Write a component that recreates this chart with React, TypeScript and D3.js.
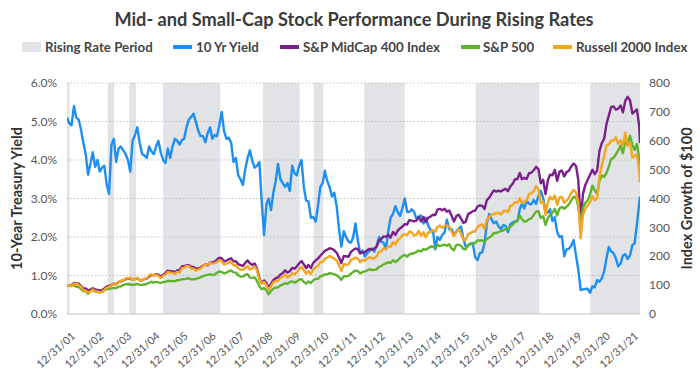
import React from 'react';
import * as d3 from 'd3';

// ---------- DATA ----------
const xTickLabels = ['12/31/01','12/31/02','12/31/03','12/31/04','12/31/05','12/31/06','12/31/07','12/31/08','12/31/09','12/31/10','12/31/11','12/31/12','12/31/13','12/31/14','12/31/15','12/31/16','12/31/17','12/31/18','12/31/19','12/31/20','12/31/21'];
const leftTicks = [0, 1, 2, 3, 4, 5, 6];
const rightTicks = [0, 100, 200, 300, 400, 500, 600, 700, 800];

const risingStarts = ['2001-12-31','2003-06-13','2004-03-17','2005-06-01','2008-12-18','2010-10-06','2012-07-24','2016-07-08','2020-08-04'];
const risingEnds   = ['2002-02-04','2003-09-02','2004-06-14','2007-06-12','2010-04-05','2011-02-08','2013-12-31','2018-10-12','2022-05-10'];

const firstDate = '2001-12-31';
const lastDate = '2022-05-10';

// monthly (month-end) observations, Dec 2001 .. May 2022
const yield10 = [
  5.10,
  4.95, 4.90, 5.40, 5.10, 5.05, 4.80, 4.45, 4.15, 3.62, 3.90, 4.20, 3.82,
  4.00, 3.70, 3.80, 3.85, 3.35, 3.12, 4.40, 4.55, 3.95, 4.30, 4.35, 4.25,
  4.15, 4.00, 3.70, 4.50, 4.65, 4.85, 4.45, 4.15, 4.12, 4.05, 4.35, 4.22,
  4.15, 4.35, 4.50, 4.20, 4.00, 3.92, 4.30, 4.05, 4.35, 4.55, 4.50, 4.40,
  4.52, 4.55, 4.85, 5.05, 5.12, 5.20, 4.98, 4.75, 4.62, 4.62, 4.46, 4.70,
  4.85, 4.55, 4.65, 4.62, 4.90, 5.25, 4.75, 4.55, 4.58, 4.45, 3.95, 4.05,
  3.60, 3.50, 3.35, 3.75, 4.05, 4.25, 3.98, 3.80, 3.85, 3.95, 2.95, 2.05,
  2.85, 3.00, 2.70, 3.15, 3.45, 3.90, 3.50, 3.40, 3.30, 3.40, 3.20, 3.85,
  3.65, 3.60, 3.85, 4.00, 3.30, 2.95, 2.92, 2.50, 2.52, 2.40, 2.80, 3.30,
  3.40, 3.72, 3.45, 3.30, 3.05, 3.15, 2.80, 2.20, 1.75, 2.15, 2.00, 1.88,
  1.85, 1.98, 2.35, 1.92, 1.58, 1.65, 1.49, 1.58, 1.65, 1.70, 1.62, 1.78,
  2.00, 1.88, 1.85, 1.68, 2.15, 2.50, 2.60, 2.80, 2.65, 2.55, 2.75, 3.00,
  2.65, 2.65, 2.72, 2.65, 2.48, 2.53, 2.56, 2.35, 2.50, 2.30, 2.18, 2.17,
  1.68, 2.00, 1.92, 2.05, 2.12, 2.45, 2.20, 2.20, 2.05, 2.15, 2.22, 2.27,
  1.95, 1.75, 1.78, 1.83, 1.85, 1.48, 1.40, 1.58, 1.60, 1.84, 2.37, 2.60,
  2.45, 2.36, 2.40, 2.28, 2.20, 2.31, 2.29, 2.12, 2.33, 2.38, 2.41, 2.41,
  2.72, 2.87, 2.74, 2.95, 2.86, 2.85, 2.96, 2.86, 3.06, 3.20, 3.01, 2.69,
  2.63, 2.72, 2.41, 2.51, 2.13, 2.00, 2.02, 1.50, 1.68, 1.69, 1.78, 1.92,
  1.51, 1.15, 0.62, 0.64, 0.65, 0.66, 0.55, 0.72, 0.69, 0.88, 0.84, 0.93,
  1.11, 1.44, 1.74, 1.63, 1.58, 1.45, 1.24, 1.31, 1.52, 1.55, 1.43, 1.52,
  1.79, 1.83, 2.32, 2.89, 3.05,
];

const midcap400 = [
  100,
  100.0, 100.2, 107.2, 106.8, 105.0, 97.3, 87.8, 88.4, 81.2, 84.6, 88.9, 85.0,
  83.7, 81.2, 82.5, 88.5, 95.9, 97.3, 100.8, 104.6, 103.0, 110.2, 113.4, 116.0,
  120.4, 123.0, 123.2, 118.9, 120.8, 124.2, 117.5, 116.5, 120.6, 122.8, 129.9, 135.3,
  133.5, 138.1, 136.0, 130.0, 136.0, 141.4, 150.1, 147.6, 148.6, 143.7, 150.9, 152.8,
  165.2, 165.6, 168.6, 168.6, 163.3, 162.9, 156.4, 158.7, 160.8, 167.1, 171.5, 168.8,
  177.7, 178.6, 180.9, 188.0, 195.2, 193.1, 182.6, 185.2, 189.2, 193.1, 182.2, 182.8,
  172.8, 169.1, 166.3, 176.9, 185.5, 175.8, 170.0, 175.2, 157.0, 124.2, 106.5, 116.2,
  107.4, 90.0, 103.2, 117.3, 123.8, 126.5, 137.0, 142.0, 151.2, 143.6, 148.0, 159.4,
  156.9, 164.3, 174.9, 183.4, 171.8, 158.5, 169.8, 158.9, 177.2, 185.2, 191.8, 201.6,
  210.3, 218.8, 222.7, 227.6, 225.6, 220.4, 212.1, 195.4, 176.0, 200.6, 199.9, 197.9,
  214.4, 221.2, 227.0, 225.4, 209.8, 213.7, 213.9, 221.2, 225.8, 222.4, 226.3, 233.6,
  254.8, 260.0, 268.8, 267.1, 274.3, 264.4, 284.3, 273.4, 289.2, 296.6, 302.9, 311.5,
  309.7, 325.2, 323.3, 320.5, 323.6, 335.6, 320.3, 336.1, 318.6, 333.2, 337.7, 343.6,
  342.7, 361.8, 364.2, 359.4, 364.2, 354.6, 358.2, 339.1, 320.0, 339.1, 343.9, 330.3,
  315.6, 319.0, 345.9, 350.0, 356.3, 357.5, 372.3, 376.4, 374.5, 363.4, 394.6, 403.1,
  417.0, 427.9, 423.9, 426.9, 424.4, 429.6, 433.5, 425.7, 441.6, 451.2, 466.7, 467.2,
  488.5, 466.6, 471.3, 467.8, 487.8, 489.0, 497.8, 509.7, 502.0, 452.8, 464.6, 415.2,
  464.0, 482.7, 480.4, 499.2, 461.2, 492.1, 496.9, 476.4, 491.3, 496.4, 511.1, 520.9,
  512.6, 464.4, 320.0, 417.1, 447.4, 464.4, 482.1, 499.8, 484.4, 496.5, 564.7, 592.0,
  607.7, 656.7, 687.2, 716.1, 719.0, 707.8, 711.2, 722.4, 698.1, 738.0, 752.0, 740.3,
  694.1, 700.6, 708.5, 650.0, 592.0,
];

const sp500 = [
  100,
  98.6, 96.7, 100.4, 94.4, 93.7, 87.0, 78.0, 80.8, 70.5, 78.4, 82.9, 78.1,
  76.1, 74.9, 75.6, 81.9, 86.2, 87.4, 88.8, 90.6, 89.6, 94.7, 95.6, 100.6,
  102.5, 103.9, 102.3, 100.8, 102.2, 104.2, 100.8, 101.2, 102.3, 103.9, 108.1, 111.7,
  109.0, 111.4, 109.4, 107.3, 110.8, 110.8, 115.0, 113.9, 114.9, 113.0, 117.2, 117.2,
  120.4, 120.7, 122.2, 123.9, 120.2, 120.4, 121.3, 124.0, 127.2, 131.4, 133.9, 135.6,
  137.8, 135.1, 136.6, 142.7, 147.6, 145.2, 140.7, 142.8, 148.2, 150.6, 144.1, 143.1,
  134.6, 130.1, 129.5, 135.9, 137.6, 126.0, 124.9, 126.7, 115.3, 96.0, 86.0, 89.7,
  82.2, 68.5, 79.7, 87.2, 92.0, 92.2, 99.1, 102.7, 106.5, 104.5, 110.8, 112.8,
  108.9, 112.1, 118.8, 120.9, 111.1, 105.3, 112.8, 107.6, 117.1, 121.6, 121.6, 129.8,
  132.9, 137.3, 137.4, 141.5, 139.8, 137.5, 134.7, 127.3, 118.2, 131.2, 130.8, 132.2,
  139.5, 145.4, 150.2, 149.4, 140.1, 145.7, 147.9, 151.2, 155.0, 152.2, 152.9, 154.8,
  163.5, 165.7, 171.8, 175.3, 179.2, 176.7, 185.8, 180.2, 185.8, 194.5, 200.1, 205.0,
  198.1, 206.9, 208.8, 210.4, 215.3, 219.6, 216.8, 225.3, 222.2, 227.7, 233.7, 233.1,
  226.3, 239.2, 235.3, 237.8, 240.6, 236.0, 241.2, 226.4, 220.9, 239.5, 240.1, 236.4,
  224.7, 224.2, 239.5, 240.6, 244.8, 245.4, 254.7, 254.8, 254.9, 250.4, 259.5, 264.7,
  269.9, 280.4, 280.7, 283.7, 287.5, 289.3, 295.4, 296.1, 302.2, 309.4, 318.8, 322.4,
  341.1, 328.3, 320.0, 321.4, 328.8, 331.0, 343.4, 354.5, 356.5, 332.3, 338.8, 308.2,
  333.0, 343.4, 350.2, 364.6, 341.2, 365.4, 370.7, 364.6, 371.6, 379.8, 393.4, 405.3,
  405.3, 371.7, 312.0, 367.6, 384.8, 392.5, 414.7, 444.5, 427.7, 416.5, 462.1, 479.9,
  475.1, 488.1, 509.5, 536.7, 540.3, 553.1, 566.3, 583.4, 556.3, 595.3, 591.1, 617.6,
  585.8, 568.1, 588.7, 537.3, 508.0,
];

const russell2000 = [
  100,
  99.6, 96.9, 104.5, 105.5, 100.8, 95.4, 81.0, 80.8, 74.8, 77.3, 84.5, 78.9,
  77.7, 75.4, 76.0, 83.3, 92.1, 93.8, 99.8, 104.4, 101.7, 110.2, 114.2, 116.3,
  122.8, 123.8, 124.9, 118.3, 120.2, 125.3, 117.1, 116.4, 121.3, 123.2, 133.8, 137.8,
  133.7, 135.9, 132.0, 124.3, 132.0, 136.9, 145.5, 142.9, 142.9, 138.4, 145.7, 144.2,
  159.2, 160.1, 166.2, 165.9, 156.6, 157.5, 149.9, 154.2, 157.5, 166.4, 170.9, 171.2,
  176.1, 174.5, 176.1, 179.4, 186.4, 183.6, 171.0, 174.3, 177.2, 182.2, 168.8, 168.6,
  158.9, 152.9, 153.1, 159.2, 166.7, 153.6, 158.7, 164.7, 151.6, 119.7, 105.4, 111.2,
  100.0, 84.0, 95.5, 110.0, 113.1, 114.7, 125.8, 129.2, 136.4, 126.9, 131.0, 141.1,
  137.8, 143.7, 155.4, 163.9, 151.5, 139.6, 149.0, 137.8, 154.7, 160.9, 166.4, 179.5,
  181.1, 190.9, 195.5, 200.6, 196.7, 191.8, 184.8, 168.4, 149.3, 172.1, 170.9, 171.8,
  186.4, 190.4, 195.1, 192.0, 179.1, 187.5, 184.7, 190.8, 196.7, 192.2, 193.2, 199.5,
  214.8, 216.9, 226.4, 225.5, 234.3, 232.6, 248.8, 240.7, 255.7, 261.9, 272.1, 277.1,
  272.9, 285.7, 283.0, 271.9, 273.9, 287.9, 270.3, 283.5, 265.9, 283.3, 283.0, 290.8,
  285.0, 301.8, 306.5, 298.4, 305.0, 306.7, 303.1, 283.5, 269.1, 284.2, 293.0, 277.9,
  256.4, 256.1, 275.9, 279.9, 285.8, 285.4, 302.2, 307.1, 310.1, 295.0, 327.5, 336.1,
  341.9, 348.1, 347.9, 351.4, 343.9, 355.2, 357.7, 352.7, 374.2, 377.3, 387.5, 385.5,
  400.7, 384.7, 389.2, 392.3, 415.7, 418.0, 425.1, 442.9, 431.5, 384.4, 390.0, 343.2,
  386.6, 406.1, 396.9, 410.0, 377.8, 403.8, 405.9, 385.3, 392.5, 402.5, 418.8, 429.8,
  421.6, 385.5, 262.0, 342.4, 364.1, 376.4, 386.6, 408.0, 393.6, 401.7, 475.4, 515.9,
  548.7, 582.6, 587.9, 600.1, 600.6, 611.7, 589.2, 601.7, 583.4, 628.0, 582.1, 594.3,
  541.7, 547.0, 552.9, 497.9, 455.0,
];

const seriesNames = ['10 Yr Yield', 'S&P MidCap 400 Index', 'S&P 500', 'Russell 2000 Index'];
const seriesColors = ['#1e8ff2', '#7a1f8b', '#5fb42c', '#f5a51e'];
const bandLabel = 'Rising Rate Period';
const bandColor = '#e2e3e6';

const title = 'Mid- and Small-Cap Stock Performance During Rising Rates';
const leftAxisTitle = '10-Year Treasury Yield';
const rightAxisTitle = 'Index Growth of $100';

// ---------- CHART ----------
const W = 700, H = 375;
const M = { left: 67, right: 640, top: 83, bottom: 314 };
const FONT = "Lato, 'Open Sans', sans-serif";

export default function App() {
  const parseIso = d3.timeParse('%Y-%m-%d');
  const parseTick = d3.timeParse('%m/%d/%y');
  const start = parseIso(firstDate) as Date;
  const end = parseIso(lastDate) as Date;

  const x = d3.scaleTime().domain([start, end]).range([M.left, M.right]);
  const yL = d3.scaleLinear().domain([0, 6]).range([M.bottom, M.top]);
  const yR = d3.scaleLinear().domain([0, 800]).range([M.bottom, M.top]);

  const n = yield10.length;
  const dates = d3.range(n).map(i => (i === n - 1 ? end : new Date(2002, i, 0)));

  const lineL = d3.line<number>().x((_, i) => x(dates[i])).y(v => yL(v));
  const lineR = d3.line<number>().x((_, i) => x(dates[i])).y(v => yR(v));

  const series = [
    { d: lineL(yield10), c: seriesColors[0] },
    { d: lineR(midcap400), c: seriesColors[1] },
    { d: lineR(sp500), c: seriesColors[2] },
    { d: lineR(russell2000), c: seriesColors[3] },
  ];

  const bands = risingStarts.map((s, i) => ({ s: parseIso(s) as Date, e: parseIso(risingEnds[i]) as Date }));
  const ticks = xTickLabels.map(l => ({ l, d: parseTick(l) as Date }));

  const legendY = 47;
  const legend = [
    { type: 'rect', x: 22, tx: 45, label: bandLabel, color: bandColor },
    { type: 'line', x: 173, tx: 196, label: seriesNames[0], color: seriesColors[0] },
    { type: 'line', x: 280, tx: 303, label: seriesNames[1], color: seriesColors[1] },
    { type: 'line', x: 461, tx: 483, label: seriesNames[2], color: seriesColors[2] },
    { type: 'line', x: 553, tx: 576, label: seriesNames[3], color: seriesColors[3] },
  ];

  return (
    <svg width={W} height={H} style={{ position: 'absolute', left: 0, top: 0, fontFamily: FONT }}>
      <rect width={W} height={H} fill="#fff" />
      <defs>
        <clipPath id="plot">
          <rect x={M.left} y={M.top - 10} width={M.right - M.left} height={M.bottom - M.top + 10} />
        </clipPath>
      </defs>

      <text x={354} y={26} textAnchor="middle" fontSize={18.2} fontWeight={700} fill="#3b3b3b">{title}</text>

      {legend.map((g, i) => (
        <g key={i}>
          {g.type === 'rect'
            ? <rect x={g.x} y={legendY - 5} width={19} height={10} fill={g.color} />
            : <rect x={g.x} y={legendY - 2} width={19} height={4} fill={g.color} />}
          <text x={g.tx} y={legendY} dy="0.35em" fontSize={13.3} fontWeight={700} fill="#444">{g.label}</text>
        </g>
      ))}

      {bands.map((b, i) => (
        <rect key={i} x={x(b.s)} y={M.top} width={Math.max(0, x(b.e) - x(b.s))} height={M.bottom - M.top} fill={bandColor} />
      ))}

      {leftTicks.slice(1).map(t => (
        <line key={t} x1={M.left} x2={M.right} y1={yL(t)} y2={yL(t)} stroke="#b5b5b5" strokeWidth={0.8} strokeDasharray="1.5,2" />
      ))}
      <line x1={M.left} x2={M.right} y1={M.bottom} y2={M.bottom} stroke="#c4c4c4" strokeWidth={1} />

      <g clipPath="url(#plot)">
        {series.map((s, i) => (
          <path key={i} d={s.d || ''} fill="none" stroke={s.c} strokeWidth={2.4} strokeLinejoin="round" />
        ))}
      </g>

      {leftTicks.map(t => (
        <text key={t} x={57} y={yL(t)} dy="0.35em" textAnchor="end" fontSize={12} fill="#555">{d3.format('.1f')(t) + '%'}</text>
      ))}
      {rightTicks.map(t => (
        <text key={t} x={649} y={yR(t)} dy="0.35em" textAnchor="start" fontSize={12} fill="#555">{t}</text>
      ))}

      {ticks.map(t => (
        <text key={t.l} transform={`translate(${x(t.d) + 9},${337}) rotate(-42)`} textAnchor="end" fontSize={10.8} fill="#555">{t.l}</text>
      ))}

      <text transform={`translate(22,${(M.top + M.bottom) / 2}) rotate(-90)`} textAnchor="middle" fontSize={14.5} fontWeight={700} fill="#333">{leftAxisTitle}</text>
      <text transform={`translate(692,${(M.top + M.bottom) / 2}) rotate(-90)`} textAnchor="middle" fontSize={14.5} fontWeight={700} fill="#333">{rightAxisTitle}</text>
    </svg>
  );
}
